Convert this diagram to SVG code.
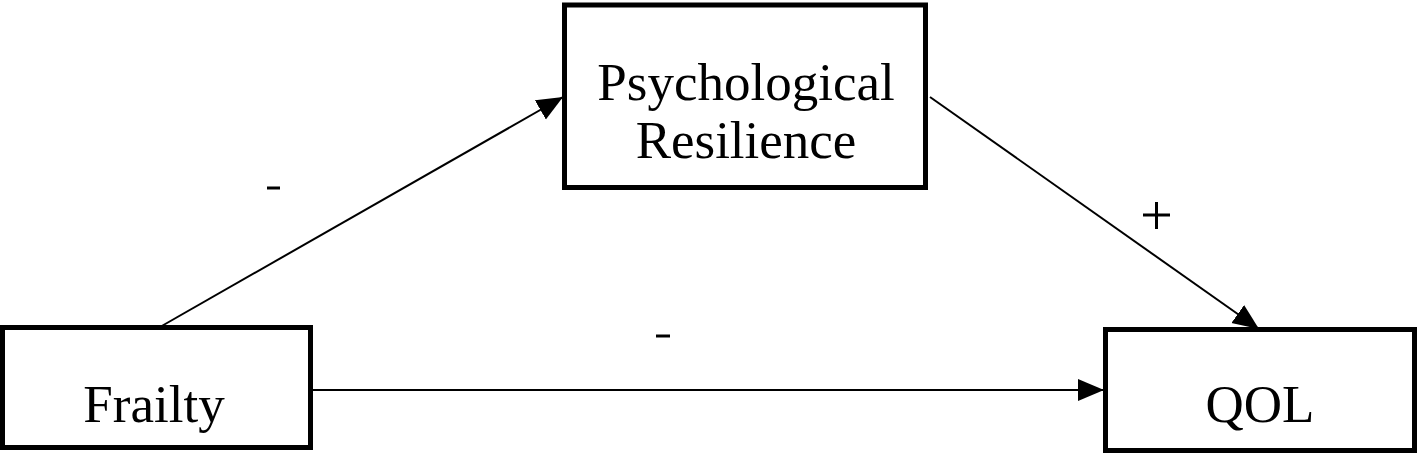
<svg xmlns="http://www.w3.org/2000/svg" width="1421" height="454" viewBox="0 0 1421 454">
<style>
.box{fill:#fff;stroke:#000;stroke-width:5}
.lbl{font-family:"Liberation Serif","Times New Roman",serif;font-size:53px;fill:#000;text-anchor:middle}
.edge{stroke:#000;stroke-width:2;fill:none;marker-end:url(#ah)}
.sign{stroke:#000;stroke-width:3}
</style>
<defs>
<marker id="ah" markerUnits="userSpaceOnUse" markerWidth="28" markerHeight="24" refX="26" refY="11" orient="auto">
<path d="M0,0 L26,11 L0,22 Z" fill="#000"/>
</marker>
</defs>
<g id="connectors">
<line class="edge" x1="160" y1="327" x2="563" y2="97"/>
<line class="edge" x1="313" y1="390" x2="1104" y2="390"/>
<line class="edge" x1="930" y1="97" x2="1259" y2="329"/>
<line class="sign" x1="267" y1="188" x2="280" y2="188"/>
<line class="sign" x1="656" y1="336" x2="670" y2="336"/>
<line class="sign" x1="1143" y1="215" x2="1170" y2="215"/>
<line class="sign" x1="1156.5" y1="202" x2="1156.5" y2="229"/>
</g>
<g id="psych">
<rect class="box" x="564.5" y="5" width="361" height="182.5"/>
<text class="lbl" x="746" y="100">Psychological</text>
<text class="lbl" x="746" y="158">Resilience</text>
</g>
<g id="frailty">
<rect class="box" x="2.5" y="327.5" width="308" height="120"/>
<text class="lbl" x="154" y="422">Frailty</text>
</g>
<g id="qol">
<rect class="box" x="1105.5" y="329.5" width="309" height="121"/>
<text class="lbl" x="1260" y="422">QOL</text>
</g>
</svg>
